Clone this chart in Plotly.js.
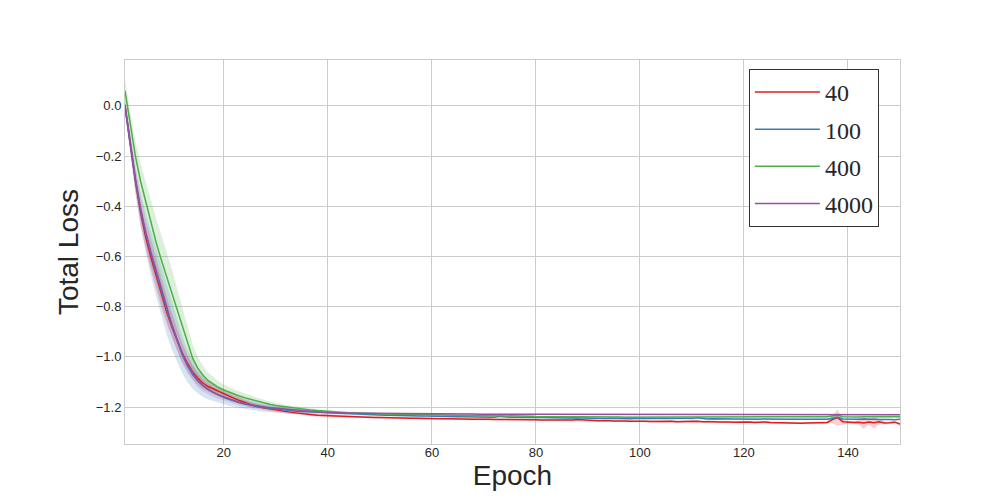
<!DOCTYPE html>
<html>
<head>
<meta charset="utf-8">
<script src="https://cdn.plot.ly/plotly-3.0.1.min.js"></script>
<style>
  html, body { margin: 0; padding: 0; background: #fff; }
  #chart { width: 1000px; height: 500px; }
</style>
</head>
<body>
<div id="chart"></div>
<script>
// --- Data ---
const epochs = Array.from({ length: 150 }, (_, i) => i + 1);

const seriesNames = ['40', '100', '400', '4000'];
const seriesColors = ['#e41a1c', '#377eb8', '#4daf4a', '#984ea3'];
const bandColors = ['rgba(228,26,28,0.2)', 'rgba(55,126,184,0.2)', 'rgba(77,175,74,0.2)', 'rgba(152,78,163,0.2)'];

const loss40 = [
  0.000, -0.155, -0.300, -0.425, -0.525, -0.605, -0.680, -0.755, -0.820, -0.880,
  -0.935, -0.985, -1.025, -1.060, -1.085, -1.105, -1.118, -1.128, -1.137, -1.145,
  -1.155, -1.165, -1.174, -1.182, -1.190, -1.196, -1.201, -1.205, -1.209, -1.212,
  -1.215, -1.218, -1.221, -1.224, -1.226, -1.228, -1.230, -1.232, -1.233, -1.235,
  -1.236, -1.236, -1.237, -1.238, -1.238, -1.239, -1.240, -1.240, -1.241, -1.241,
  -1.242, -1.242, -1.243, -1.243, -1.244, -1.244, -1.244, -1.245, -1.245, -1.245,
  -1.246, -1.246, -1.246, -1.247, -1.247, -1.247, -1.248, -1.248, -1.248, -1.247,
  -1.248, -1.249, -1.249, -1.248, -1.249, -1.250, -1.250, -1.249, -1.250, -1.250,
  -1.251, -1.251, -1.250, -1.251, -1.252, -1.252, -1.251, -1.249, -1.251, -1.253,
  -1.253, -1.254, -1.253, -1.254, -1.255, -1.254, -1.255, -1.256, -1.255, -1.256,
  -1.256, -1.257, -1.256, -1.257, -1.257, -1.256, -1.258, -1.257, -1.256, -1.254,
  -1.256, -1.258, -1.257, -1.258, -1.259, -1.258, -1.259, -1.260, -1.259, -1.260,
  -1.259, -1.261, -1.260, -1.259, -1.261, -1.262, -1.261, -1.262, -1.263, -1.264,
  -1.264, -1.263, -1.264, -1.262, -1.262, -1.261, -1.250, -1.242, -1.258, -1.260,
  -1.261, -1.260, -1.263, -1.259, -1.262, -1.258, -1.263, -1.262, -1.260, -1.268,
];
const spread40 = [
  0.020, 0.030, 0.040, 0.045, 0.050, 0.050, 0.050, 0.050, 0.048, 0.045,
  0.040, 0.036, 0.032, 0.028, 0.025, 0.022, 0.020, 0.018, 0.017, 0.016,
  0.015, 0.014, 0.013, 0.012, 0.011, 0.010, 0.010, 0.009, 0.009, 0.008,
  0.008, 0.007, 0.007, 0.007, 0.006, 0.006, 0.006, 0.006, 0.005, 0.005,
  0.005, 0.005, 0.004, 0.004, 0.004, 0.004, 0.004, 0.004, 0.004, 0.004,
  0.004, 0.004, 0.004, 0.004, 0.004, 0.004, 0.004, 0.004, 0.004, 0.004,
  0.004, 0.004, 0.004, 0.004, 0.004, 0.004, 0.004, 0.004, 0.004, 0.005,
  0.004, 0.004, 0.004, 0.005, 0.004, 0.004, 0.004, 0.005, 0.004, 0.004,
  0.004, 0.004, 0.005, 0.004, 0.004, 0.004, 0.005, 0.006, 0.004, 0.004,
  0.004, 0.004, 0.004, 0.004, 0.004, 0.004, 0.004, 0.004, 0.004, 0.004,
  0.004, 0.004, 0.004, 0.004, 0.004, 0.004, 0.004, 0.004, 0.005, 0.006,
  0.005, 0.004, 0.004, 0.004, 0.004, 0.004, 0.004, 0.004, 0.004, 0.004,
  0.004, 0.004, 0.004, 0.004, 0.004, 0.004, 0.004, 0.004, 0.004, 0.004,
  0.004, 0.004, 0.004, 0.004, 0.004, 0.005, 0.014, 0.032, 0.010, 0.005,
  0.005, 0.008, 0.024, 0.010, 0.024, 0.010, 0.006, 0.005, 0.005, 0.006,
];

const loss100 = [
  -0.005, -0.155, -0.295, -0.415, -0.510, -0.590, -0.665, -0.740, -0.810, -0.875,
  -0.935, -0.990, -1.035, -1.070, -1.095, -1.115, -1.130, -1.142, -1.152, -1.162,
  -1.170, -1.177, -1.183, -1.188, -1.193, -1.197, -1.200, -1.203, -1.206, -1.209,
  -1.211, -1.213, -1.215, -1.217, -1.218, -1.220, -1.221, -1.222, -1.223, -1.224,
  -1.225, -1.226, -1.227, -1.228, -1.228, -1.229, -1.230, -1.230, -1.231, -1.231,
  -1.232, -1.232, -1.233, -1.233, -1.234, -1.234, -1.235, -1.235, -1.235, -1.236,
  -1.236, -1.237, -1.237, -1.237, -1.238, -1.238, -1.238, -1.239, -1.239, -1.238,
  -1.239, -1.240, -1.236, -1.239, -1.240, -1.240, -1.241, -1.241, -1.240, -1.241,
  -1.241, -1.242, -1.242, -1.241, -1.243, -1.243, -1.242, -1.243, -1.244, -1.243,
  -1.244, -1.244, -1.245, -1.244, -1.245, -1.244, -1.245, -1.246, -1.245, -1.245,
  -1.246, -1.246, -1.245, -1.246, -1.247, -1.246, -1.246, -1.247, -1.246, -1.244,
  -1.242, -1.246, -1.247, -1.246, -1.247, -1.247, -1.246, -1.247, -1.247, -1.248,
  -1.247, -1.248, -1.248, -1.247, -1.248, -1.248, -1.247, -1.248, -1.248, -1.248,
  -1.248, -1.249, -1.248, -1.248, -1.249, -1.248, -1.244, -1.240, -1.247, -1.248,
  -1.249, -1.248, -1.247, -1.249, -1.248, -1.249, -1.248, -1.249, -1.250, -1.248,
];
const spread100 = [
  0.020, 0.040, 0.055, 0.070, 0.080, 0.090, 0.095, 0.100, 0.100, 0.095,
  0.085, 0.075, 0.065, 0.058, 0.050, 0.045, 0.040, 0.035, 0.031, 0.028,
  0.025, 0.023, 0.021, 0.020, 0.019, 0.018, 0.017, 0.016, 0.015, 0.014,
  0.013, 0.012, 0.011, 0.010, 0.009, 0.008, 0.008, 0.007, 0.007, 0.006,
  0.005, 0.005, 0.005, 0.004, 0.004, 0.004, 0.004, 0.004, 0.004, 0.004,
  0.004, 0.004, 0.004, 0.004, 0.004, 0.004, 0.004, 0.003, 0.003, 0.003,
  0.003, 0.003, 0.003, 0.003, 0.003, 0.003, 0.003, 0.003, 0.003, 0.003,
  0.003, 0.003, 0.005, 0.003, 0.003, 0.003, 0.003, 0.003, 0.003, 0.003,
  0.003, 0.003, 0.003, 0.003, 0.003, 0.003, 0.003, 0.003, 0.003, 0.003,
  0.003, 0.003, 0.003, 0.003, 0.003, 0.003, 0.003, 0.003, 0.003, 0.003,
  0.003, 0.003, 0.003, 0.003, 0.003, 0.003, 0.003, 0.003, 0.003, 0.004,
  0.005, 0.003, 0.003, 0.003, 0.003, 0.003, 0.003, 0.003, 0.003, 0.003,
  0.003, 0.003, 0.003, 0.003, 0.003, 0.003, 0.003, 0.003, 0.003, 0.003,
  0.003, 0.003, 0.003, 0.003, 0.003, 0.003, 0.005, 0.007, 0.003, 0.003,
  0.003, 0.003, 0.004, 0.003, 0.003, 0.003, 0.003, 0.003, 0.003, 0.003,
];

const loss400 = [
  0.060, -0.070, -0.200, -0.300, -0.385, -0.470, -0.545, -0.615, -0.680, -0.745,
  -0.810, -0.875, -0.945, -1.005, -1.045, -1.073, -1.095, -1.110, -1.122, -1.132,
  -1.141, -1.149, -1.156, -1.163, -1.169, -1.175, -1.180, -1.185, -1.190, -1.194,
  -1.197, -1.200, -1.203, -1.206, -1.208, -1.210, -1.212, -1.214, -1.216, -1.218,
  -1.219, -1.220, -1.221, -1.222, -1.223, -1.224, -1.225, -1.225, -1.226, -1.226,
  -1.227, -1.227, -1.228, -1.228, -1.229, -1.229, -1.229, -1.230, -1.230, -1.230,
  -1.231, -1.231, -1.232, -1.232, -1.232, -1.233, -1.233, -1.233, -1.234, -1.234,
  -1.234, -1.235, -1.235, -1.235, -1.235, -1.236, -1.236, -1.236, -1.236, -1.237,
  -1.237, -1.237, -1.237, -1.238, -1.238, -1.238, -1.238, -1.238, -1.239, -1.239,
  -1.239, -1.239, -1.239, -1.239, -1.239, -1.239, -1.240, -1.240, -1.240, -1.240,
  -1.240, -1.239, -1.240, -1.240, -1.239, -1.240, -1.240, -1.239, -1.240, -1.239,
  -1.238, -1.239, -1.240, -1.239, -1.240, -1.240, -1.239, -1.240, -1.239, -1.240,
  -1.239, -1.240, -1.239, -1.239, -1.240, -1.239, -1.239, -1.240, -1.239, -1.239,
  -1.239, -1.238, -1.239, -1.239, -1.238, -1.238, -1.235, -1.232, -1.238, -1.239,
  -1.238, -1.239, -1.238, -1.238, -1.239, -1.238, -1.238, -1.239, -1.238, -1.238,
];
const spread400 = [
  0.040, 0.050, 0.060, 0.070, 0.080, 0.090, 0.095, 0.100, 0.100, 0.095,
  0.085, 0.075, 0.065, 0.055, 0.045, 0.038, 0.032, 0.028, 0.025, 0.022,
  0.020, 0.019, 0.018, 0.017, 0.016, 0.015, 0.013, 0.012, 0.011, 0.010,
  0.009, 0.008, 0.008, 0.007, 0.007, 0.006, 0.006, 0.005, 0.005, 0.005,
  0.004, 0.004, 0.004, 0.004, 0.004, 0.004, 0.004, 0.004, 0.004, 0.004,
  0.003, 0.003, 0.003, 0.003, 0.003, 0.003, 0.003, 0.003, 0.003, 0.003,
  0.003, 0.003, 0.003, 0.003, 0.003, 0.003, 0.003, 0.003, 0.003, 0.003,
  0.003, 0.003, 0.003, 0.003, 0.003, 0.003, 0.003, 0.003, 0.003, 0.003,
  0.003, 0.003, 0.003, 0.003, 0.003, 0.003, 0.003, 0.003, 0.003, 0.003,
  0.003, 0.003, 0.003, 0.003, 0.003, 0.003, 0.003, 0.003, 0.003, 0.003,
  0.003, 0.003, 0.003, 0.003, 0.003, 0.003, 0.003, 0.003, 0.003, 0.003,
  0.004, 0.003, 0.003, 0.003, 0.003, 0.003, 0.003, 0.003, 0.003, 0.003,
  0.003, 0.003, 0.003, 0.003, 0.003, 0.003, 0.003, 0.003, 0.003, 0.003,
  0.003, 0.003, 0.003, 0.003, 0.003, 0.003, 0.004, 0.006, 0.003, 0.003,
  0.003, 0.003, 0.003, 0.003, 0.003, 0.003, 0.003, 0.003, 0.003, 0.003,
];

const loss4000 = [
  0.005, -0.150, -0.290, -0.410, -0.505, -0.585, -0.655, -0.735, -0.805, -0.870,
  -0.930, -0.985, -1.030, -1.065, -1.095, -1.115, -1.130, -1.142, -1.152, -1.160,
  -1.168, -1.175, -1.181, -1.186, -1.190, -1.194, -1.197, -1.200, -1.203, -1.205,
  -1.207, -1.209, -1.211, -1.213, -1.215, -1.216, -1.218, -1.219, -1.220, -1.221,
  -1.222, -1.222, -1.223, -1.223, -1.223, -1.224, -1.224, -1.224, -1.224, -1.225,
  -1.225, -1.225, -1.225, -1.225, -1.226, -1.226, -1.226, -1.226, -1.226, -1.226,
  -1.226, -1.227, -1.227, -1.227, -1.227, -1.227, -1.227, -1.227, -1.228, -1.228,
  -1.228, -1.228, -1.228, -1.228, -1.228, -1.228, -1.228, -1.228, -1.229, -1.229,
  -1.229, -1.229, -1.229, -1.229, -1.229, -1.229, -1.229, -1.229, -1.229, -1.229,
  -1.229, -1.229, -1.230, -1.230, -1.230, -1.230, -1.230, -1.230, -1.230, -1.230,
  -1.230, -1.230, -1.230, -1.230, -1.230, -1.230, -1.230, -1.230, -1.230, -1.230,
  -1.230, -1.230, -1.230, -1.230, -1.230, -1.230, -1.230, -1.230, -1.230, -1.230,
  -1.230, -1.230, -1.230, -1.230, -1.230, -1.230, -1.230, -1.230, -1.230, -1.230,
  -1.230, -1.230, -1.230, -1.230, -1.230, -1.230, -1.230, -1.229, -1.230, -1.230,
  -1.230, -1.230, -1.230, -1.230, -1.230, -1.230, -1.230, -1.230, -1.230, -1.230,
];
const spread4000 = [
  0.020, 0.030, 0.040, 0.045, 0.050, 0.055, 0.055, 0.055, 0.052, 0.048,
  0.044, 0.040, 0.035, 0.030, 0.026, 0.023, 0.020, 0.018, 0.016, 0.015,
  0.014, 0.013, 0.012, 0.011, 0.010, 0.009, 0.009, 0.008, 0.008, 0.007,
  0.007, 0.006, 0.006, 0.006, 0.005, 0.005, 0.005, 0.004, 0.004, 0.004,
  0.003, 0.003, 0.003, 0.003, 0.003, 0.003, 0.003, 0.003, 0.003, 0.003,
  0.003, 0.003, 0.003, 0.003, 0.003, 0.003, 0.003, 0.003, 0.003, 0.003,
  0.002, 0.002, 0.002, 0.002, 0.002, 0.002, 0.002, 0.002, 0.002, 0.002,
  0.002, 0.002, 0.002, 0.002, 0.002, 0.002, 0.002, 0.002, 0.002, 0.002,
  0.002, 0.002, 0.002, 0.002, 0.002, 0.002, 0.002, 0.002, 0.002, 0.002,
  0.002, 0.002, 0.002, 0.002, 0.002, 0.002, 0.002, 0.002, 0.002, 0.002,
  0.002, 0.002, 0.002, 0.002, 0.002, 0.002, 0.002, 0.002, 0.002, 0.002,
  0.002, 0.002, 0.002, 0.002, 0.002, 0.002, 0.002, 0.002, 0.002, 0.002,
  0.002, 0.002, 0.002, 0.002, 0.002, 0.002, 0.002, 0.002, 0.002, 0.002,
  0.002, 0.002, 0.002, 0.002, 0.002, 0.002, 0.002, 0.003, 0.002, 0.002,
  0.002, 0.002, 0.002, 0.002, 0.002, 0.002, 0.002, 0.002, 0.002, 0.002,
];

const means = [loss40, loss100, loss400, loss4000];
const spreads = [spread40, spread100, spread400, spread4000];

// --- Traces: shaded bands first, then the mean lines on top ---
const bandTraces = [];
const lineTraces = [];
means.forEach((m, i) => {
  const upper = m.map((v, k) => v + spreads[i][k]);
  const lower = m.map((v, k) => v - spreads[i][k]);
  bandTraces.push({
    x: epochs, y: upper, type: 'scatter', mode: 'lines',
    line: { width: 0, color: seriesColors[i] },
    hoverinfo: 'skip', showlegend: false, legendgroup: 'g' + i,
  });
  bandTraces.push({
    x: epochs, y: lower, type: 'scatter', mode: 'lines',
    line: { width: 0, color: seriesColors[i] },
    fill: 'tonexty', fillcolor: bandColors[i],
    hoverinfo: 'skip', showlegend: false, legendgroup: 'g' + i,
  });
  lineTraces.push({
    x: epochs, y: m, type: 'scatter', mode: 'lines',
    name: seriesNames[i], legendgroup: 'g' + i,
    line: { width: 1.5, color: seriesColors[i] },
  });
});

const axisCommon = {
  showgrid: true, gridcolor: '#cccccc', gridwidth: 1,
  showline: true, linecolor: '#cccccc', linewidth: 1, mirror: true,
  zeroline: false, ticks: '',
  tickfont: { family: 'Liberation Sans, Arial, sans-serif', size: 13, color: '#262626' },
};

const layout = {
  width: 1000, height: 500,
  paper_bgcolor: '#ffffff', plot_bgcolor: '#ffffff',
  margin: { l: 125, r: 100, t: 60, b: 56 },
  xaxis: {
    ...axisCommon,
    range: [1, 150],
    tickvals: [20, 40, 60, 80, 100, 120, 140],
    ticklabelstandoff: -4,
    title: { text: 'Epoch', font: { family: 'Liberation Sans, Arial, sans-serif', size: 28, color: '#262626' }, standoff: 4 },
  },
  yaxis: {
    ...axisCommon,
    range: [-1.347, 0.183],
    tickvals: [0, -0.2, -0.4, -0.6, -0.8, -1.0, -1.2],
    tickformat: '.1f',
    title: { text: 'Total Loss', font: { family: 'Liberation Sans, Arial, sans-serif', size: 28, color: '#262626' }, standoff: 8 },
  },
  legend: {
    x: 0.805, y: 0.977, xanchor: 'left', yanchor: 'top',
    bgcolor: '#ffffff', bordercolor: '#333333', borderwidth: 1,
    font: { family: 'Liberation Serif, Times New Roman, serif', size: 24, color: '#262626' },
    itemwidth: 65, tracegroupgap: 3,
  },
  showlegend: true,
};

Plotly.newPlot('chart', [...bandTraces, ...lineTraces], layout, { displayModeBar: false, staticPlot: true });
</script>
</body>
</html>
